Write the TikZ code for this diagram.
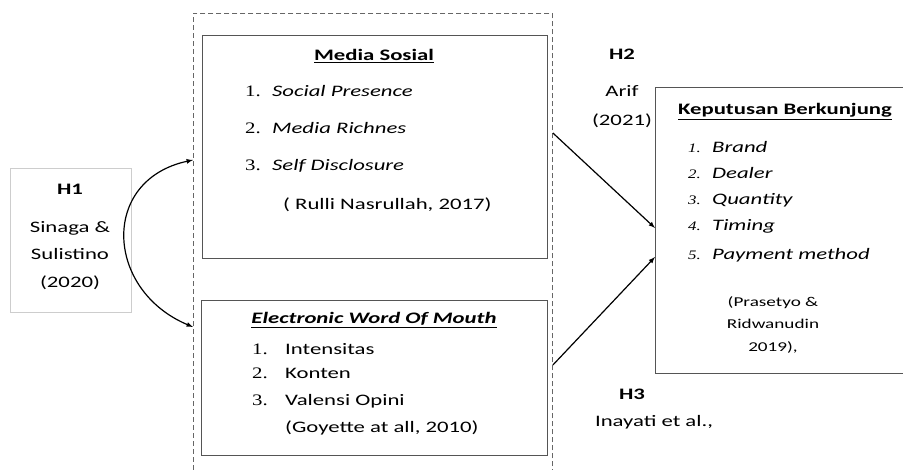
\documentclass[tikz,border=0pt]{standalone}
\usepackage{fontspec}
\setmainfont{Carlito}[FakeStretch=1.42]
\newfontfamily\numfont{Liberation Serif}[FakeStretch=1.3]
\usetikzlibrary{arrows,positioning}

\definecolor{boxgray}{RGB}{85,85,85}
\definecolor{softgray}{RGB}{205,205,205}

\begin{document}
\begin{tikzpicture}[x=1pt,y=-1pt,>=latex,font=\fontsize{16}{19}\selectfont]
       \tikzstyle{box}=[draw=boxgray,line width=1.1pt,anchor=north west,inner sep=0pt]
       \tikzstyle{txt}=[anchor=base,inner sep=0pt]
       \tikzstyle{item}=[anchor=base west,inner sep=0pt]
       \tikzstyle{num}=[anchor=base west,inner sep=0pt,font=\fontsize{16}{19}\numfont]

       \useasboundingbox (0,0) rectangle (903,470);

       % boxes
       \node[box,draw=softgray,line width=0.8pt,minimum width=121,minimum height=144] (h1box) at (10,168) {};
       \node[box,draw=boxgray!90,dash pattern=on 5pt off 3pt,line width=0.9pt,minimum width=359,minimum height=462] (group) at (193,13) {};
       \node[box,minimum width=345,minimum height=223] (media) at (202,35) {};
       \node[box,minimum width=346,minimum height=155] (ewom) at (201,300) {};
       \node[box,minimum width=260,minimum height=286] (kb) at (655,87) {};

       % Media Sosial
       \node[txt] (mtitle) at (374,61) {\textbf{\underline{Media Sosial}}};
       \node[num] (m1) at (245,97) {1.};
       \node[num] (m2) at (245,134) {2.};
       \node[num] (m3) at (245,171) {3.};
       \node[item] (mi1) at (272,97) {\textit{Social Presence}};
       \node[item] (mi2) at (272,134) {\textit{Media Richnes}};
       \node[item] (mi3) at (272,171) {\textit{Self Disclosure}};
       \node[item] (mref) at (283,210) {( Rulli Nasrullah, 2017)};

       % Electronic Word Of Mouth
       \node[txt] (etitle) at (374,324) {\textbf{\textit{\underline{Electronic Word Of Mouth}}}};
       \node[num] (e1) at (252,355) {1.};
       \node[num] (e2) at (252,379) {2.};
       \node[num] (e3) at (252,406) {3.};
       \node[item] (ei1) at (285,355) {Intensitas};
       \node[item] (ei2) at (285,379) {Konten};
       \node[item] (ei3) at (285,406) {Valensi Opini};
       \node[item] (eref) at (285,432) {(Goyette at all, 2010)};

       % Keputusan Berkunjung
       \node[txt] (ktitle) at (785,115) {\textbf{\underline{Keputusan Berkunjung}}};
       \foreach \i/\lbl/\yy in {1/Brand/153,2/Dealer/179,3/Quantity/205,4/Timing/231,5/Payment method/260}{
         \node[num,font=\fontsize{13}{16}\numfont\itshape] (k\i) at (688,\yy) {\i.};
         \node[item] (ki\i) at (712,\yy) {\textit{\lbl}};
       }
       \node[txt,font=\fontsize{13.5}{16}\selectfont] (kref1) at (773,307) {(Prasetyo \&};
       \node[txt,font=\fontsize{13.5}{16}\selectfont] (kref2) at (773,329) {Ridwanudin};
       \node[txt,font=\fontsize{13.5}{16}\selectfont] (kref3) at (773,352) {2019),};

       % hipotesis
       \node[txt] (h1) at (70,195) {\textbf{H1}};
       \node[txt] (h1a) at (70,233) {Sinaga \&};
       \node[txt] (h1b) at (70,260) {Sulistino};
       \node[txt] (h1c) at (70,288) {(2020)};
       \node[txt] (h2) at (622,60) {\textbf{H2}};
       \node[txt] (h2a) at (622,97) {Arif};
       \node[txt] (h2b) at (622,126) {(2021)};
       \node[txt] (h3) at (632,400) {\textbf{H3}};
       \node[txt] (h3a) at (654,427) {Inayati et al.,};

       % connectors
       \coordinate (arcTop) at (group.west |- 0,160);
       \coordinate (arcBot) at (group.west |- 0,327);
       \coordinate (h2from) at (group.east |- 0,133);
       \coordinate (h3from) at (group.east |- 0,365);
       \coordinate (h2to) at (kb.west |- 0,228);
       \coordinate (h3to) at (kb.west |- 0,257);

       \draw[<->,line width=1.2pt] (arcTop) .. controls (100,180) and (105,290) .. (arcBot);
       \path[->,line width=1.2pt]
       (h2from) edge (h2to)
       (h3from) edge (h3to);
     \end{tikzpicture}
\end{document}
